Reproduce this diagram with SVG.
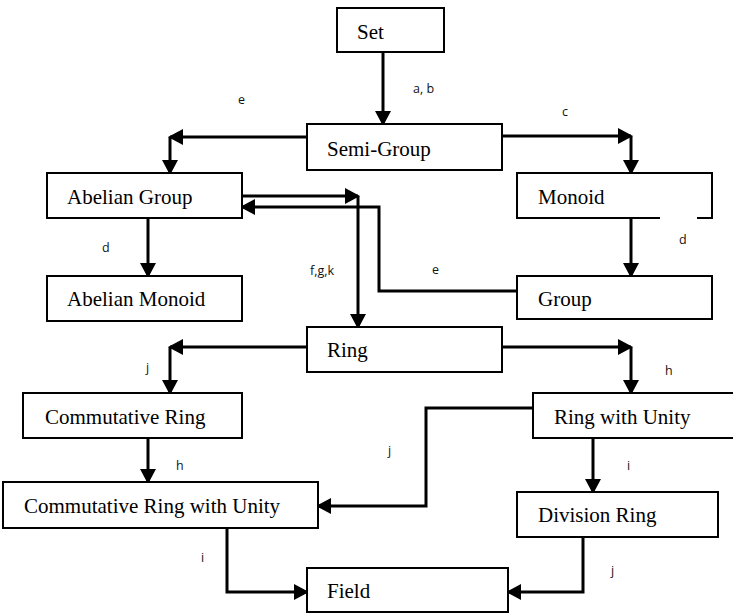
<svg xmlns="http://www.w3.org/2000/svg" width="733" height="614" viewBox="0 0 733 614">
<style>
.box{fill:#fff;stroke:#000;stroke-width:2}
.nt{font-family:"Liberation Serif","Times New Roman",serif;font-size:21px;fill:#000}
.el{font-family:"Open Sans","Liberation Sans",sans-serif;font-size:12.5px;fill:#111}
.c{fill:none;stroke:#000;stroke-width:3}
.a{marker-end:url(#ah)}
</style>
<defs>
<marker id="ah" markerUnits="userSpaceOnUse" markerWidth="16" markerHeight="18" refX="13" refY="8" orient="auto">
<path d="M0,0 L15,8 L0,16 Z" fill="#000"/>
</marker>
</defs>
<rect width="733" height="614" fill="#fff"/>
<g id="connectors">
<path class="c a" d="M383,52 V124"/>
<path class="c a" d="M307,137 H170"/>
<path class="c a" d="M170,137 V173"/>
<path class="c a" d="M502,136 H631"/>
<path class="c a" d="M631,136 V173"/>
<path class="c a" d="M242,196 H358"/>
<path class="c a" d="M358,196 V327"/>
<path class="c a" d="M517,291 H379 V207 H242"/>
<path class="c a" d="M148,218 V276"/>
<path class="c a" d="M631,218 V276"/>
<path class="c a" d="M307,347 H170"/>
<path class="c a" d="M170,347 V393"/>
<path class="c a" d="M502,347 H631"/>
<path class="c a" d="M631,347 V393"/>
<path class="c a" d="M148,438 V482"/>
<path class="c a" d="M533,408 H426 V506 H318"/>
<path class="c a" d="M593,438 V492"/>
<path class="c a" d="M583,537 V592 H508"/>
<path class="c a" d="M227,528 V592 H307"/>
<text class="el" x="413" y="93">a, b</text>
<text class="el" x="238" y="104">e</text>
<text class="el" x="562" y="116">c</text>
<text class="el" x="102" y="252">d</text>
<text class="el" x="679" y="244">d</text>
<text class="el" x="310" y="275">f,g,k</text>
<text class="el" x="432" y="274">e</text>
<text class="el" x="146" y="372">j</text>
<text class="el" x="665" y="375">h</text>
<text class="el" x="176" y="470">h</text>
<text class="el" x="388" y="455">j</text>
<text class="el" x="627" y="470">i</text>
<text class="el" x="201" y="562">i</text>
<text class="el" x="611" y="575">j</text>
</g>
<g id="set"><rect class="box" x="337" y="8" width="107" height="44"/><text class="nt" x="357" y="39">Set</text></g>
<g id="semigroup"><rect class="box" x="307" y="124" width="195" height="46"/><text class="nt" x="327" y="156">Semi-Group</text></g>
<g id="abeliangroup"><rect class="box" x="47" y="173" width="195" height="45"/><text class="nt" x="67" y="204">Abelian Group</text></g>
<g id="monoid"><rect class="box" x="517" y="173" width="195" height="45"/><line x1="660" y1="218" x2="697" y2="218" stroke="#fff" stroke-width="3"/><text class="nt" x="538" y="204">Monoid</text></g>
<g id="abelianmonoid"><rect class="box" x="47" y="276" width="195" height="45"/><text class="nt" x="67" y="306">Abelian Monoid</text></g>
<g id="group"><rect class="box" x="517" y="276" width="195" height="43"/><text class="nt" x="538" y="306">Group</text></g>
<g id="ring"><rect class="box" x="307" y="327" width="195" height="45"/><text class="nt" x="327" y="357">Ring</text></g>
<g id="commutativering"><rect class="box" x="23" y="393" width="219" height="45"/><text class="nt" x="45" y="424">Commutative Ring</text></g>
<g id="ringwithunity"><rect class="box" x="533" y="393" width="204" height="45"/><text class="nt" x="554" y="424">Ring with Unity</text></g>
<g id="crwu"><rect class="box" x="3" y="482" width="315" height="46"/><text class="nt" x="24" y="513">Commutative Ring with Unity</text></g>
<g id="divisionring"><rect class="box" x="517" y="492" width="201" height="45"/><text class="nt" x="538" y="522">Division Ring</text></g>
<g id="field"><rect class="box" x="307" y="568" width="201" height="44"/><text class="nt" x="327" y="598">Field</text></g>
</svg>
